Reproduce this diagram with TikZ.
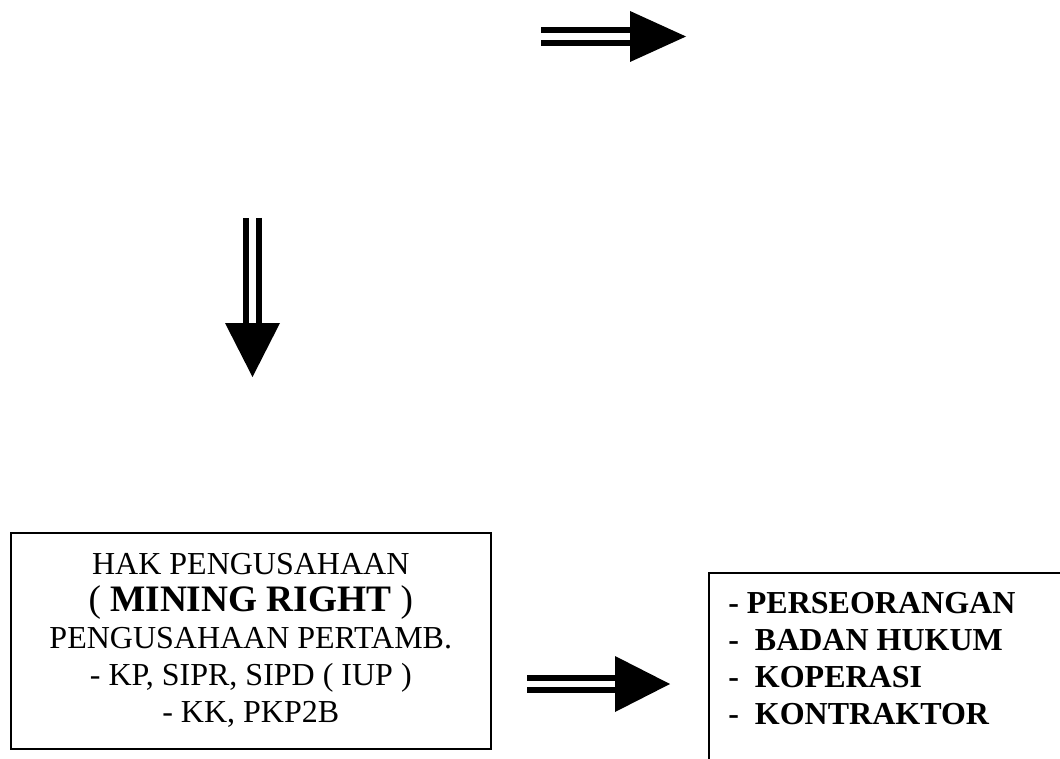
\documentclass[tikz,border=0pt]{standalone}
\usepackage{fontspec}
\setmainfont{Liberation Serif}
\usetikzlibrary{positioning}

\begin{document}
\begin{tikzpicture}[x=0.75pt, y=-0.75pt,
    kotak/.style={draw, line width=1.2pt, inner sep=0pt},
    garis/.style={line width=4.5pt, double, double distance=5pt},
    kepala/.style={fill=black}]
  \useasboundingbox (0,0) rectangle (1060,759);

  % panah atas
  \coordinate (atasA) at (541,36.5);
  \coordinate (atasB) at (632,36.5);
  \draw[garis] (atasA) -- (atasB);
  \fill[kepala] (630,11) -- (686,36.5) -- (630,62) -- cycle;

  % panah turun
  \coordinate (turunA) at (252.5,218);
  \coordinate (turunB) at (252.5,325);
  \draw[garis] (turunA) -- (turunB);
  \fill[kepala] (225,323) -- (252.5,377) -- (280,323) -- cycle;

  % kotak hak pengusahaan
  \node[kotak, anchor=north west, minimum width=360pt, minimum height=162pt,
        align=center, font=\fontsize{24}{27.75}\selectfont] (hak) at (10,532)
       {HAK PENGUSAHAAN\\
        {\fontsize{28}{30}\selectfont ( \textbf{MINING RIGHT} )}\\
        PENGUSAHAAN PERTAMB.\\
        - KP, SIPR, SIPD ( IUP )\\
        - KK, PKP2B};

  % panah bawah
  \coordinate (bawahA) at (527,684);
  \coordinate (bawahB) at (617,684);
  \draw[garis] (bawahA) -- (bawahB);
  \fill[kepala] (615,656) -- (670,684) -- (615,712) -- cycle;

  % kotak pelaku usaha
  \node[kotak, anchor=north west, minimum width=300pt, minimum height=200pt]
       (pelaku) at (708,572) {};
  \node[inner sep=0pt, align=left, anchor=north west,
        font=\fontsize{24}{27.75}\selectfont\bfseries,
        below right=15pt and 15pt of pelaku.north west] (daftar)
       {- PERSEORANGAN\\
        - \ BADAN HUKUM\\
        - \ KOPERASI\\
        - \ KONTRAKTOR};
\end{tikzpicture}
\end{document}
